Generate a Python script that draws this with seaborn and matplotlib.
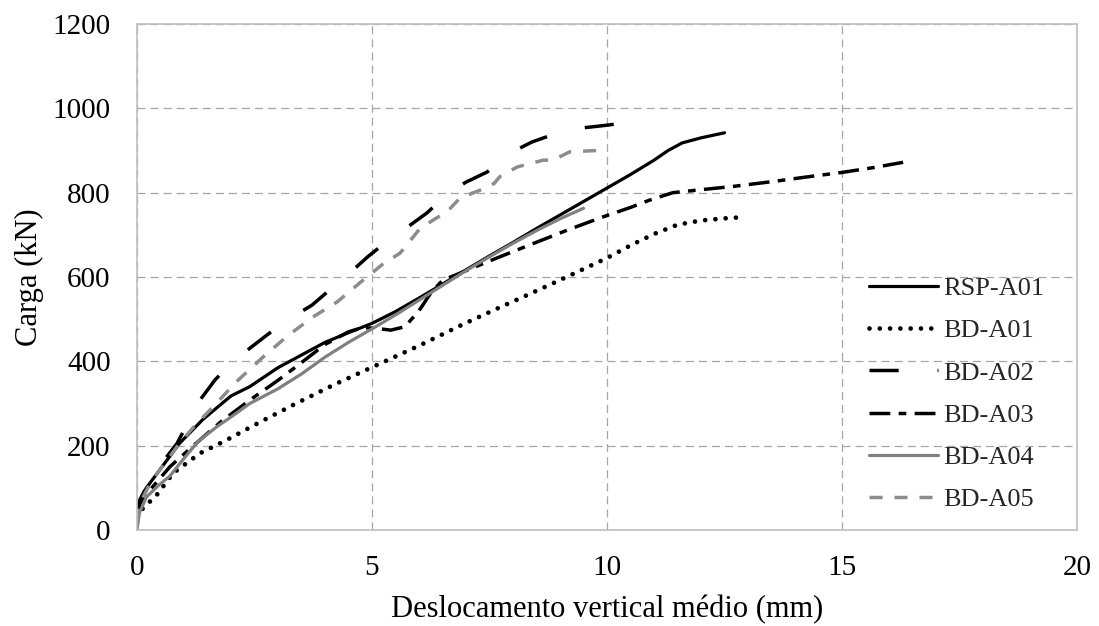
import numpy as np
import pandas as pd
import matplotlib
matplotlib.use("Agg")
import matplotlib.pyplot as plt
import seaborn as sns

# Load-displacement curves (displacement in mm, load in kN)
rsp_a01_x = [0, 0.05, 0.2, 0.4, 0.9, 1.4, 2.0, 2.4, 3.0, 3.5, 4.0, 4.5, 5.0, 5.5, 6.0,
             6.5, 7.0, 7.5, 8.0, 8.5, 9.0, 9.5, 10.0, 10.5, 11.0, 11.3, 11.6, 12.0, 12.5]
rsp_a01_y = [40, 70, 100, 130, 205, 262, 318, 340, 385, 415, 445, 468, 490, 518, 550,
             583, 617, 650, 682, 715, 747, 779, 811, 843, 877, 900, 918, 930, 942]

bd_a01_x = [0, 0.05, 0.13, 0.42, 0.77, 1.34, 1.9, 2.6, 3.4, 4.2, 5.02, 6.0, 6.94, 7.72,
            8.36, 9.1, 10.0, 10.5, 11.0, 11.5, 12.0, 12.5, 12.77]
bd_a01_y = [30, 40, 52, 83, 135, 182, 213, 255, 301, 345, 387, 437, 488, 528,
            560, 598, 645, 675, 702, 724, 734, 739, 741]

bd_a02_x = [0, 0.1, 0.4, 0.85, 1.34, 1.66, 2.0, 2.4, 2.9, 3.3, 3.72, 4.17, 4.55, 4.91,
            5.38, 5.8, 6.17, 6.62, 7.0, 7.45, 7.94, 8.4, 8.83, 9.43, 10.0, 10.34, 10.6]
bd_a02_y = [30, 80, 140, 205, 308, 356, 395, 431, 474, 505, 533, 576, 612, 648,
            690, 722, 752, 799, 825, 849, 894, 920, 937, 953, 960, 965, 966]

bd_a03_x = [0, 0.05, 0.3, 0.7, 1.2, 1.8, 2.4, 3.0, 3.5, 4.0, 4.5, 4.8, 5.1, 5.4, 5.7,
            6.0, 6.25, 6.5, 7.0, 7.7, 8.4, 9.15, 9.85, 10.5, 10.9, 11.4, 12.0, 12.7,
            13.5, 14.3, 15.0, 15.7, 16.3]
bd_a03_y = [40, 60, 98, 150, 200, 258, 308, 355, 397, 440, 470, 480, 478, 474, 482,
            520, 562, 592, 615, 647, 678, 711, 740, 765, 782, 800, 807, 815,
            826, 838, 848, 860, 872]

bd_a04_x = [0, 0.05, 0.2, 0.45, 0.7, 1.0, 1.3, 1.7, 2.0, 2.4, 3.0, 3.5, 4.0, 4.5, 5.0,
            5.5, 6.0, 6.5, 7.0, 7.5, 8.0, 8.5, 9.0, 9.5]
bd_a04_y = [0, 40, 78, 105, 128, 170, 210, 245, 268, 300, 335, 370, 410, 445, 477,
            510, 545, 580, 615, 648, 680, 710, 738, 763]

bd_a05_x = [0, 0.05, 0.28, 0.6, 0.91, 1.25, 1.62, 2.1, 2.68, 3.2, 3.74, 4.26, 4.74,
            5.2, 5.6, 6.0, 6.3, 6.6, 6.87, 7.3, 7.6, 7.72, 8.09, 8.64, 8.85, 9.21,
            9.6, 10.02]
bd_a05_y = [20, 60, 111, 160, 206, 250, 292, 350, 410, 460, 505, 541, 586,
            628, 657, 712, 735, 755, 787, 806, 822, 838, 861, 877, 877, 897,
            899, 901]

series_names = ["RSP-A01", "BD-A01", "BD-A02", "BD-A03", "BD-A04", "BD-A05"]
series_x = [rsp_a01_x, bd_a01_x, bd_a02_x, bd_a03_x, bd_a04_x, bd_a05_x]
series_y = [rsp_a01_y, bd_a01_y, bd_a02_y, bd_a03_y, bd_a04_y, bd_a05_y]

x_ticks = [0, 5, 10, 15, 20]
y_ticks = [0, 200, 400, 600, 800, 1000, 1200]

# Line styles (dash lengths in points, unscaled)
styles = {
    "RSP-A01": dict(color="black", lw=2.3, ls="-", cap="butt"),
    "BD-A01": dict(color="black", lw=3.4, ls=(0, (0.01, 7.4)), cap="round"),
    "BD-A02": dict(color="black", lw=2.5, ls=(0, (21.0, 28.0)), cap="butt"),
    "BD-A03": dict(color="black", lw=2.5, ls=(0, (15.0, 6.0, 5.5, 6.0)), cap="butt"),
    "BD-A04": dict(color="#808080", lw=2.3, ls="-", cap="butt"),
    "BD-A05": dict(color="#8c8c8c", lw=2.5, ls=(0, (9.4, 8.6)), cap="butt"),
}

sns.set_theme(style="white")
plt.rcParams["font.family"] = ["Liberation Serif", "DejaVu Serif"]
plt.rcParams["lines.scale_dashes"] = False

fig = plt.figure(figsize=(10.99, 6.26), dpi=100)
ax = fig.add_axes([137 / 1099, 1 - 530 / 626, (1077 - 137) / 1099, (530 - 24) / 626])

for name, xs, ys in zip(series_names, series_x, series_y):
    st = styles[name]
    df = pd.DataFrame({"x": xs, "y": ys})
    sns.lineplot(data=df, x="x", y="y", ax=ax, sort=False, estimator=None,
                 color=st["color"], linewidth=st["lw"], linestyle=st["ls"],
                 dash_capstyle=st["cap"], solid_capstyle="round", label=name)

ax.set_xlim(0, 20)
ax.set_ylim(0, 1200)
ax.set_xticks(x_ticks)
ax.set_yticks(y_ticks)
ax.grid(True, color="#a6a6a6", linestyle=(0, (5.8, 3.6)), linewidth=0.9)
ax.set_axisbelow(True)
for sp in ax.spines.values():
    sp.set_visible(True)
    sp.set_color("#bfbfbf")
    sp.set_linewidth(1.2)

ax.tick_params(axis="both", length=0, labelsize=21, colors="black")
ax.tick_params(axis="y", pad=19)
ax.tick_params(axis="x", pad=18)
ax.set_xlabel("Deslocamento vertical médio (mm)", fontsize=22, labelpad=10, color="black")
ax.set_ylabel("Carga (kN)", fontsize=22, labelpad=6, color="black")

ax.legend(loc="center left", bbox_to_anchor=(0.7787, 0.2688), frameon=False,
          fontsize=19, handlelength=2.6, handletextpad=0.2, labelspacing=0.71,
          borderpad=0, borderaxespad=0)

fig.savefig("out.png", dpi=100)
